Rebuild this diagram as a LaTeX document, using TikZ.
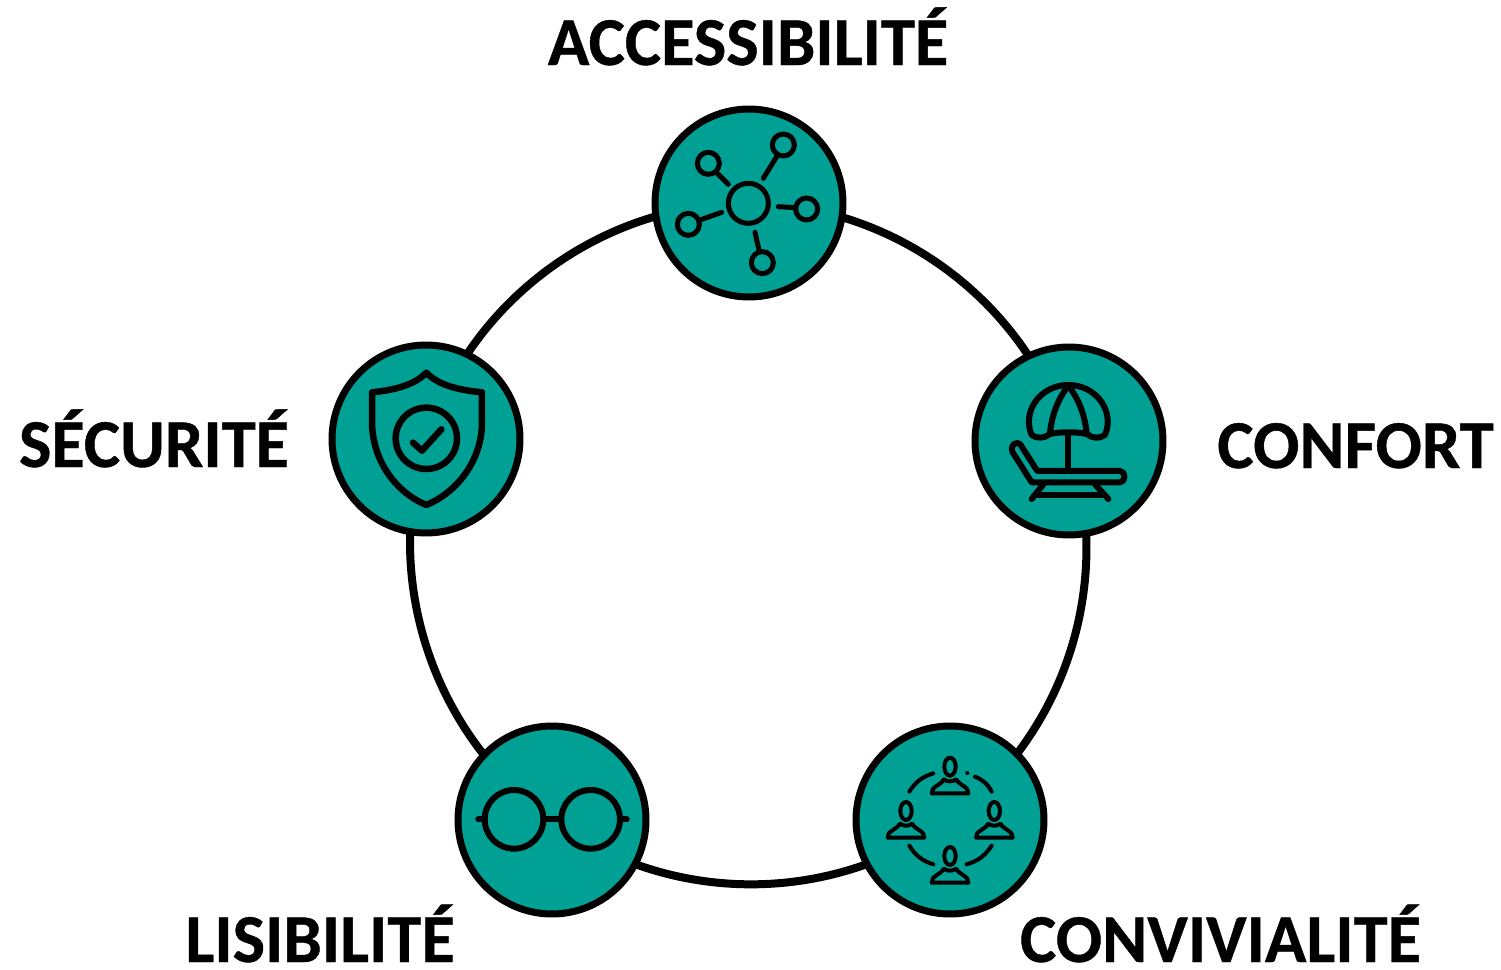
\documentclass[tikz,border=0pt]{standalone}
\usepackage{fontspec}
\setmainfont[BoldFeatures={FakeBold=.6}]{Carlito}
\usetikzlibrary{backgrounds}
\definecolor{discteal}{HTML}{00A095}
\tikzset{
    disc/.style={circle, draw=black, fill=discteal, line width=7*.02cm, minimum size=3.76cm, inner sep=0pt},
    ringline/.style={line width=8*.02cm, black, bend left=36, looseness=.94},
    title/.style={font=\fontsize{39}{42}\selectfont\bfseries, anchor=base, inner sep=0pt},
    crop/.style={x=.006667cm, y=-.006667cm, line cap=round, line join=round},
    person/.pic={
        \draw (0, 0) ellipse (17 and 27);
        \draw (-55, 80) -- (55, 80) .. controls (58, 60) and (25, 55) .. (19, 38)
            .. controls (8, 46) and (-8, 46) .. (-19, 38)
            .. controls (-25, 55) and (-58, 60) .. (-55, 80) -- cycle;
    }
}

\begin{document}
\begin{tikzpicture}[x=.02cm, y=-.02cm]
    \useasboundingbox (0, 0) rectangle (1501, 970);
    % the five discs
    \node[disc] (acces) at (749, 203) {};
    \node[disc] (confort) at (1069, 441) {};
    \node[disc] (convi) at (950, 820) {};
    \node[disc] (lisi) at (552, 820) {};
    \node[disc] (secu) at (426, 439) {};
    % ring, behind the discs
    \begin{scope}[on background layer]
        \draw[ringline] (acces.center) to (confort.center);
        \draw[ringline] (confort.center) to (convi.center);
        \draw[ringline] (convi.center) to (lisi.center);
        \draw[ringline] (lisi.center) to (secu.center);
        \draw[ringline] (secu.center) to (acces.center);
    \end{scope}
    % titles
    \node[title] (tacces) at (748, 65) {ACCESSIBILITÉ};
    \node[title] (tconfort) at (1355.5, 468) {CONFORT};
    \node[title] (tconvi) at (1220.5, 962) {CONVIVIALITÉ};
    \node[title] (tlisi) at (320, 962) {LISIBILITÉ};
    \node[title] (tsecu) at (154, 467) {SÉCURITÉ};
    % network
    \begin{scope}[shift={(640, 95)}, crop, line width=5*.02cm]
        \draw (325, 325) circle (60);
        \draw (205, 205) circle (33);
        \draw (430, 150) circle (33);
        \draw (500, 342) circle (33);
        \draw (367, 503) circle (33);
        \draw (145, 388) circle (33);
        \draw (265, 268) -- (232, 235);
        \draw (370, 250) -- (410, 185);
        \draw (415, 335) -- (465, 338);
        \draw (345, 412) -- (358, 470);
        \draw (245, 352) -- (180, 375);
    \end{scope}
    % parasol and deckchair
    \begin{scope}[shift={(960, 335)}, crop, line width=6*.02cm]
        \draw (215, 300) .. controls (185, 230) and (240, 150) .. (325, 150)
            .. controls (410, 150) and (465, 230) .. (435, 300)
            .. controls (420, 312) and (395, 310) .. (380, 297)
            .. controls (350, 290) and (300, 290) .. (270, 297)
            .. controls (255, 310) and (230, 312) .. (215, 300) -- cycle;
        \draw (325, 152) .. controls (295, 190) and (275, 240) .. (270, 295);
        \draw (325, 152) .. controls (355, 190) and (375, 240) .. (380, 295);
        \draw (325, 300) -- (325, 405);
        \draw (182, 330) -- (232, 408) -- (480, 408)
            .. controls (498, 408) and (498, 442) .. (480, 442)
            -- (215, 442) -- (158, 352)
            .. controls (148, 330) and (170, 315) .. (182, 330) -- cycle;
        \draw (250, 448) -- (215, 492);
        \draw (405, 448) -- (445, 492);
        \draw (228, 480) -- (432, 480);
    \end{scope}
    % four people round a table
    \begin{scope}[shift={(840, 715)}, crop, line width=4*.02cm]
        \pic at (330, 155) {person};
        \pic at (198, 288) {person};
        \pic at (463, 288) {person};
        \pic at (330, 423) {person};
        \draw (208, 230) to[bend left=20] (280, 175);
        \draw (405, 185) to[bend left=20] (455, 230);
        \draw (208, 392) to[bend right=20] (280, 448);
        \draw (380, 448) to[bend right=20] (455, 392);
        \fill (382, 174) circle (6);
    \end{scope}
    % glasses
    \begin{scope}[shift={(445, 715)}, crop, line width=6*.02cm]
        \draw (207, 313) circle (88);
        \draw (437, 313) circle (88);
        \draw (295, 313) -- (349, 313);
        \draw (100, 313) -- (120, 313);
        \draw (525, 313) -- (545, 313);
    \end{scope}
    % shield
    \begin{scope}[shift={(318, 330)}, crop, line width=6.5*.02cm]
        \draw (325, 128) .. controls (290, 165) and (230, 180) .. (162, 187) -- (162, 280)
            .. controls (165, 400) and (240, 490) .. (325, 525)
            .. controls (410, 490) and (490, 400) .. (492, 280) -- (492, 187)
            .. controls (420, 180) and (360, 165) .. (325, 128) -- cycle;
        \draw (325, 325) circle (92);
        \draw (285, 338) -- (312, 362) -- (370, 298);
    \end{scope}
\end{tikzpicture}
\end{document}
